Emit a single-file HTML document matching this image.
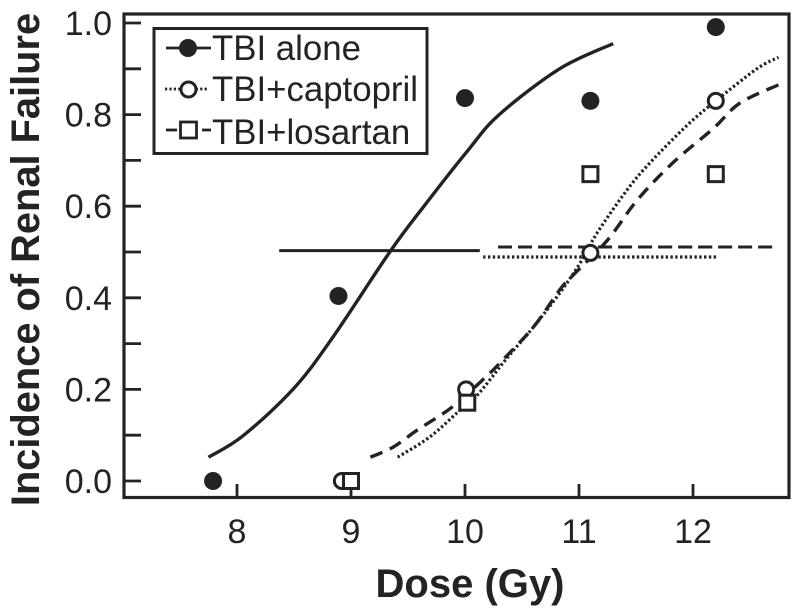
<!DOCTYPE html>
<html lang="en">
<head>
<meta charset="utf-8">
<title>Incidence of Renal Failure vs Dose</title>
<style>
  html, body { margin: 0; padding: 0; background: #fff; }
  body { width: 800px; height: 616px; overflow: hidden; }
  svg { display: block; font-family: "Liberation Sans", sans-serif; }
  text { fill: #232323; }
</style>
</head>
<body>
<svg id="chart" width="800" height="616" viewBox="0 0 800 616"></svg>
<script>
const xTickValues = [8, 9, 10, 11, 12];
const yTickLabels = ["0.0", "0.2", "0.4", "0.6", "0.8", "1.0"];
const yTickValues = [0, 0.1, 0.2, 0.3, 0.4, 0.5, 0.6, 0.7, 0.8, 0.9, 1.0];

const aloneDose = [7.79, 8.89, 10.0, 11.1, 12.2];
const aloneIncidence = [0, 0.404, 0.836, 0.83, 0.991];
const captoprilDose = [8.92, 10.01, 11.1, 12.2];
const captoprilIncidence = [0, 0.2, 0.498, 0.83];
const losartanDose = [9.0, 10.02, 11.1, 12.2];
const losartanIncidence = [0, 0.171, 0.67, 0.67];

const aloneCurveDose = [7.75, 8.05, 8.49, 8.83, 9.34, 9.64, 10.02, 10.3, 10.83, 11.3];
const aloneCurveIncidence = [0.052, 0.098, 0.2, 0.31, 0.5, 0.6, 0.72, 0.8, 0.9, 0.955];
const captoprilCurveDose = [9.41, 9.69, 9.94, 10.11, 10.37, 10.6, 10.83, 11.01, 11.16, 11.42, 11.62, 11.95, 12.2, 12.56, 12.75];
const captoprilCurveIncidence = [0.052, 0.096, 0.151, 0.188, 0.269, 0.336, 0.41, 0.476, 0.542, 0.635, 0.694, 0.777, 0.83, 0.9, 0.925];
const losartanCurveDose = [9.17, 9.37, 9.58, 9.89, 10.22, 10.33, 10.6, 10.83, 10.95, 11.25, 11.51, 11.82, 12.18, 12.41, 12.75];
const losartanCurveIncidence = [0.052, 0.074, 0.111, 0.162, 0.236, 0.264, 0.336, 0.417, 0.45, 0.526, 0.613, 0.694, 0.77, 0.825, 0.865];

const aloneLd50Dose = [8.37, 10.13];
const aloneLd50Incidence = [0.503, 0.503];
const captoprilLd50Dose = [10.16, 12.22];
const captoprilLd50Incidence = [0.489, 0.489];
const losartanLd50Dose = [10.29, 12.72];
const losartanLd50Incidence = [0.511, 0.511];

const INK = "#232323";
const NS = "http://www.w3.org/2000/svg";
const svg = document.getElementById("chart");

function xScale(d) { return 237 + 114 * (d - 8); }
function yScale(v) { return 481 - 458 * v; }

function mk(tag, attrs, parent) {
  const el = document.createElementNS(NS, tag);
  for (const k in attrs) el.setAttribute(k, attrs[k]);
  (parent || svg).appendChild(el);
  return el;
}
function linePath(xs, ys, attrs) {
  const p = xs.map((d, i) => [xScale(d), yScale(ys[i])]);
  let path = "M" + p[0][0].toFixed(1) + " " + p[0][1].toFixed(1);
  for (let i = 0; i < p.length - 1; i++) {
    const a = p[Math.max(0, i - 1)], b = p[i], c = p[i + 1], e = p[Math.min(p.length - 1, i + 2)];
    const c1x = b[0] + (c[0] - a[0]) / 6, c1y = b[1] + (c[1] - a[1]) / 6;
    const c2x = c[0] - (e[0] - b[0]) / 6, c2y = c[1] - (e[1] - b[1]) / 6;
    path += "C" + c1x.toFixed(1) + " " + c1y.toFixed(1) + " " + c2x.toFixed(1) + " " + c2y.toFixed(1) + " " + c[0].toFixed(1) + " " + c[1].toFixed(1);
  }
  return mk("path", Object.assign({ d: path, fill: "none", stroke: INK, "stroke-linejoin": "round" }, attrs));
}

/* frame */
const frame = mk("rect", { x: 124, y: 14, width: 665, height: 483.5, fill: "none", stroke: INK, "stroke-width": 3.2 });



/* y ticks */
yTickValues.forEach(function (v) {
  const t = mk("line", { x1: 124, x2: 141, y1: yScale(v), y2: yScale(v), stroke: INK, "stroke-width": 2.8 });
  
  
});
yTickLabels.forEach(function (s) {
  const t = mk("text", { x: 112, y: yScale(parseFloat(s)) + 12, "text-anchor": "end", "font-size": 34 });
  t.textContent = s;
  
  
});

/* x ticks */
xTickValues.forEach(function (d) {
  const t = mk("line", { x1: xScale(d), x2: xScale(d), y1: 484, y2: 497, stroke: INK, "stroke-width": 2.8 });
  
  
  const l = mk("text", { x: xScale(d), y: 543, "text-anchor": "middle", "font-size": 34 });
  l.textContent = String(d);
  
  
});

/* axis titles */
const yTitle = mk("text", { transform: "translate(39,259.5) rotate(-90)", "text-anchor": "middle", "font-size": 39.8, "font-weight": "bold" });
yTitle.textContent = "Incidence of Renal Failure";


const xTitle = mk("text", { x: 470, y: 597, "text-anchor": "middle", "font-size": 40, "font-weight": "bold" });
xTitle.textContent = "Dose (Gy)";



/* curves */
const aloneCurve = linePath(aloneCurveDose, aloneCurveIncidence, { "stroke-width": 3.4 });


const capCurve = linePath(captoprilCurveDose, captoprilCurveIncidence, { "stroke-width": 3.2, "stroke-dasharray": "2.4 2.4" });


const losCurve = linePath(losartanCurveDose, losartanCurveIncidence, { "stroke-width": 3.4, "stroke-dasharray": "13 8" });



/* LD50 horizontal lines */
const aloneLd = linePath(aloneLd50Dose, aloneLd50Incidence, { "stroke-width": 3 });


const capLd = linePath(captoprilLd50Dose, captoprilLd50Incidence, { "stroke-width": 3.2, "stroke-dasharray": "2.4 2.4" });


const losLd = linePath(losartanLd50Dose, losartanLd50Incidence, { "stroke-width": 3, "stroke-dasharray": "14 6" });



/* markers */
captoprilDose.forEach(function (d, i) {
  const c = mk("circle", { cx: xScale(d), cy: yScale(captoprilIncidence[i]), r: 7.5, fill: "#fff", stroke: INK, "stroke-width": 3 });
  
  
});
losartanDose.forEach(function (d, i) {
  const s = mk("rect", { x: xScale(d) - 7.5, y: yScale(losartanIncidence[i]) - 7.5, width: 15, height: 15, fill: "#fff", stroke: INK, "stroke-width": 3 });
  
  
});
aloneDose.forEach(function (d, i) {
  const c = mk("circle", { cx: xScale(d), cy: yScale(aloneIncidence[i]), r: 9, fill: INK });
  
  
});

/* legend */
const legend = mk("g", {});


const legendBox = mk("rect", { x: 154, y: 28.5, width: 273, height: 125, fill: "#fff", stroke: INK, "stroke-width": 3 }, legend);



const e1 = mk("g", {}, legend);


mk("line", { x1: 166, x2: 211, y1: 48, y2: 48, stroke: INK, "stroke-width": 2.8 }, e1);
mk("circle", { cx: 188, cy: 48, r: 9, fill: INK }, e1);
const t1 = mk("text", { x: 212, y: 60, "font-size": 34.8 }, e1);
t1.textContent = "TBI alone";

const e2 = mk("g", {}, legend);


mk("line", { x1: 165, x2: 208, y1: 89, y2: 89, stroke: INK, "stroke-width": 2.8, "stroke-dasharray": "2.2 2.2" }, e2);
mk("circle", { cx: 188.5, cy: 89.5, r: 7.5, fill: "#fff", stroke: INK, "stroke-width": 3 }, e2);
const t2 = mk("text", { x: 212, y: 101, "font-size": 34.8 }, e2);
t2.textContent = "TBI+captopril";

const e3 = mk("g", {}, legend);


mk("line", { x1: 166, x2: 177, y1: 130, y2: 130, stroke: INK, "stroke-width": 2.8 }, e3);
mk("line", { x1: 202, x2: 211, y1: 130, y2: 130, stroke: INK, "stroke-width": 2.8 }, e3);
mk("rect", { x: 180.5, y: 122, width: 16, height: 16, fill: "#fff", stroke: INK, "stroke-width": 2.8 }, e3);
const t3 = mk("text", { x: 212, y: 144, "font-size": 34.8 }, e3);
t3.textContent = "TBI+losartan";
</script>
</body>
</html>
